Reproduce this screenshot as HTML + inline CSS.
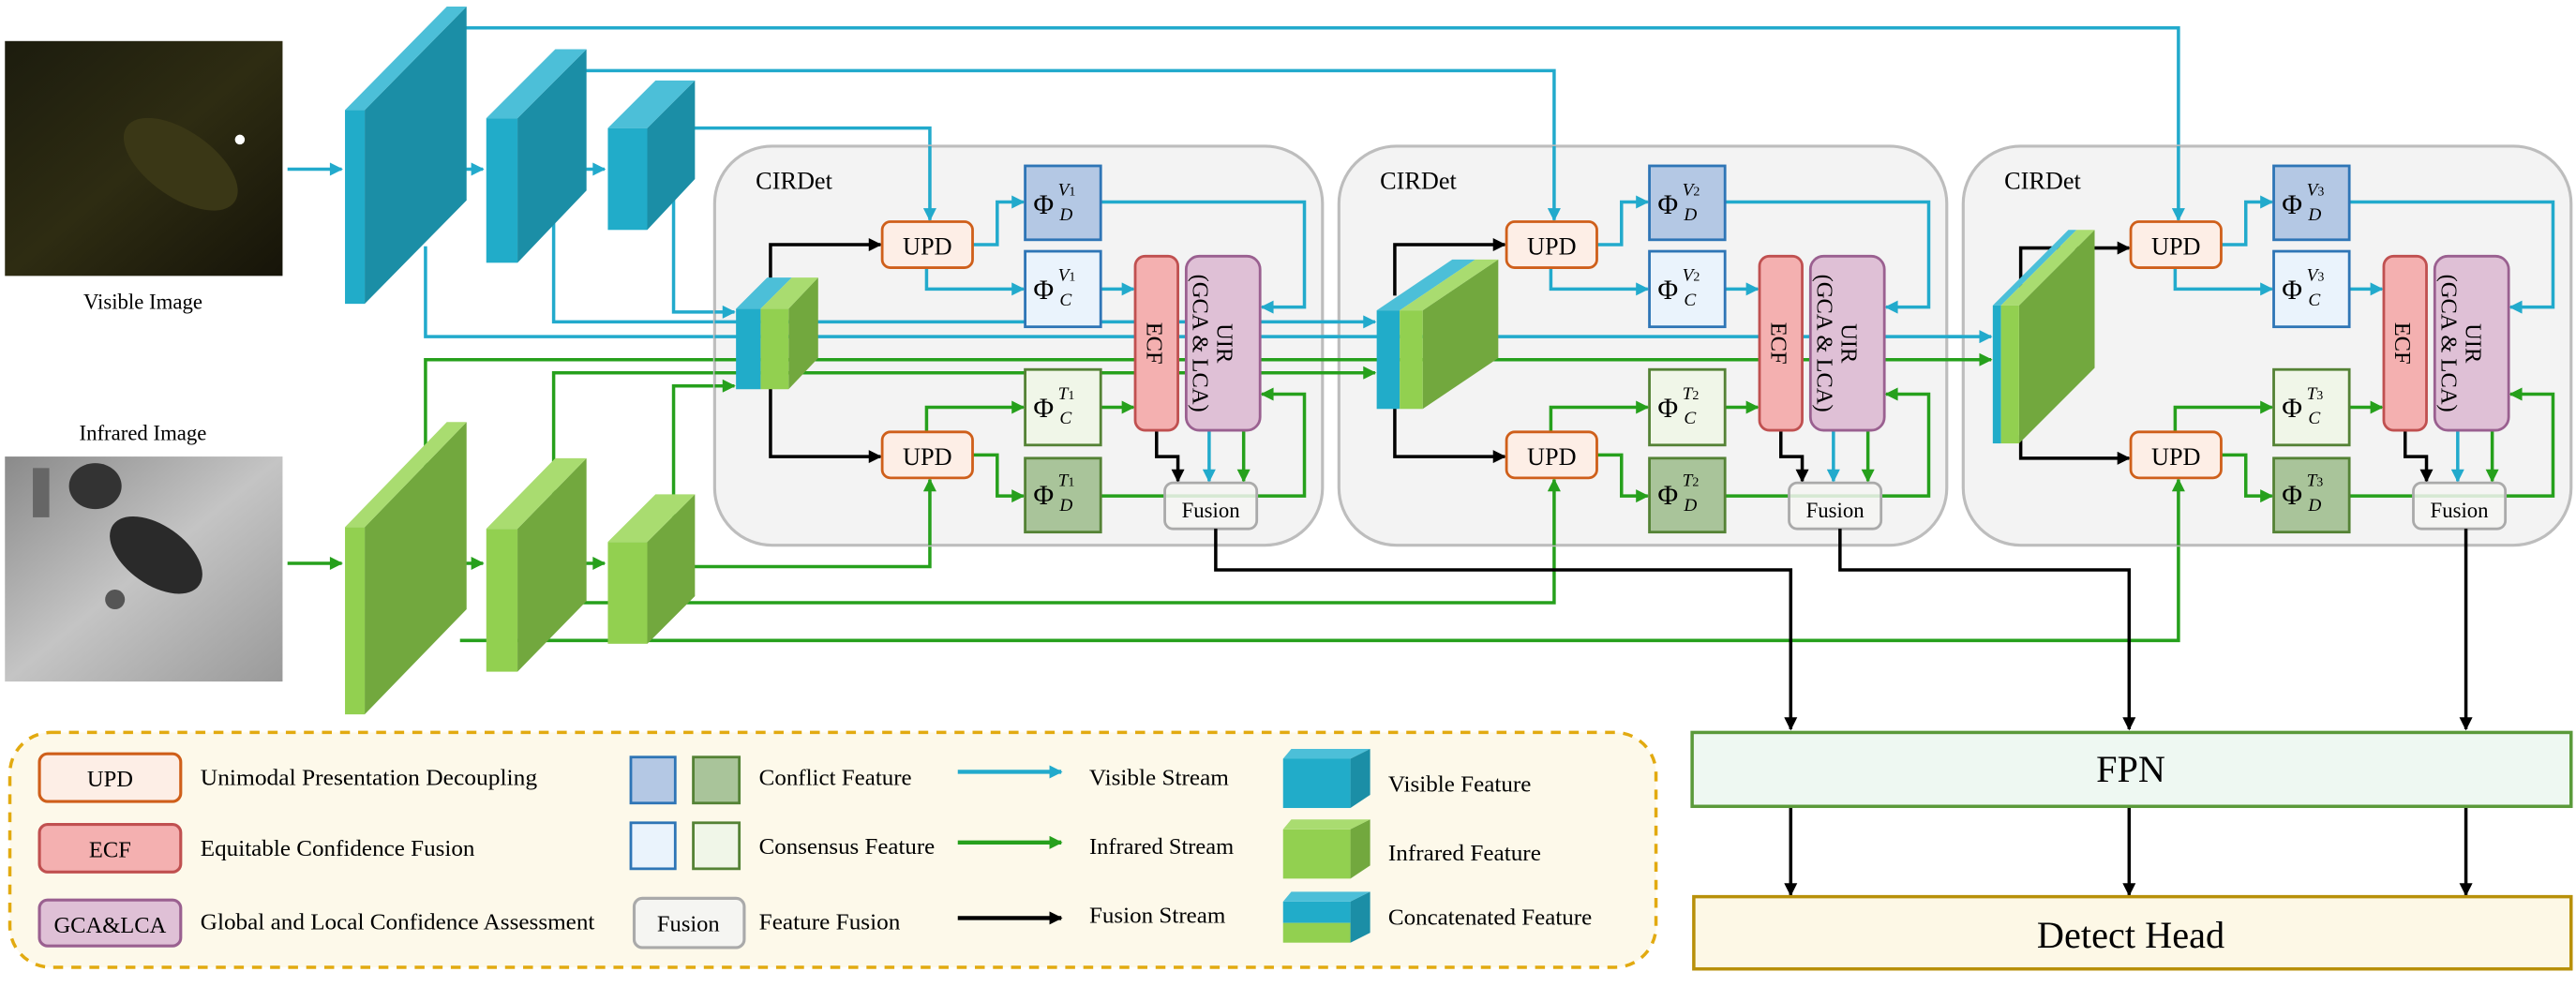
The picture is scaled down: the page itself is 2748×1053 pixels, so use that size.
<!DOCTYPE html>
<html><head><meta charset="utf-8"><style>
html,body{margin:0;padding:0;background:#fff;}
svg{display:block;font-family:"Liberation Serif",serif;}
</style></head><body>
<svg width="2748" height="1053" viewBox="0 0 1568 601" preserveAspectRatio="none" xmlns="http://www.w3.org/2000/svg">
<defs>
<marker id="ab" viewBox="0 0 10 10" refX="9" refY="5" markerWidth="9" markerHeight="8" markerUnits="userSpaceOnUse" orient="auto"><path d="M0,0L10,5L0,10z" fill="#22aacc"/></marker>
<marker id="ag" viewBox="0 0 10 10" refX="9" refY="5" markerWidth="9" markerHeight="8" markerUnits="userSpaceOnUse" orient="auto"><path d="M0,0L10,5L0,10z" fill="#26a01c"/></marker>
<marker id="ak" viewBox="0 0 10 10" refX="9" refY="5" markerWidth="9" markerHeight="8" markerUnits="userSpaceOnUse" orient="auto"><path d="M0,0L10,5L0,10z" fill="#000"/></marker>
<linearGradient id="vis" x1="0" y1="0" x2="1" y2="1"><stop offset="0" stop-color="#1c1c0e"/><stop offset="0.5" stop-color="#2e2c12"/><stop offset="1" stop-color="#161409"/></linearGradient>
<linearGradient id="ir" x1="0" y1="0" x2="1" y2="1"><stop offset="0" stop-color="#8a8a8a"/><stop offset="0.5" stop-color="#c4c4c4"/><stop offset="1" stop-color="#9a9a9a"/></linearGradient>
</defs>

<!-- input images -->
<rect x="3" y="25" width="169" height="143" fill="url(#vis)"/>
<ellipse cx="110" cy="100" rx="40" ry="20" fill="#3a3716" transform="rotate(35 110 100)"/>
<circle cx="146" cy="85" r="3" fill="#fff"/>
<rect x="3" y="278" width="169" height="137" fill="url(#ir)"/>
<ellipse cx="95" cy="338" rx="32" ry="18" fill="#2a2a2a" transform="rotate(35 95 338)"/>
<ellipse cx="58" cy="296" rx="16" ry="14" fill="#333"/>
<rect x="20" y="285" width="10" height="30" fill="#666"/>
<circle cx="70" cy="365" r="6" fill="#555"/>
<text x="87" y="188" font-size="13" text-anchor="middle">Visible Image</text>
<text x="87" y="268" font-size="13" text-anchor="middle">Infrared Image</text>

<g fill="none" stroke-width="2">
<path d="M175,103H208" stroke="#22aacc" marker-end="url(#ab)"/>
<path d="M257,103H294" stroke="#22aacc" marker-end="url(#ab)"/>
<path d="M330,103H368" stroke="#22aacc" marker-end="url(#ab)"/>
<path d="M175,343H208" stroke="#26a01c" marker-end="url(#ag)"/>
<path d="M257,343H294" stroke="#26a01c" marker-end="url(#ag)"/>
<path d="M330,343H368" stroke="#26a01c" marker-end="url(#ag)"/>
<path d="M280,17H1326V134" stroke="#22aacc" marker-end="url(#ab)"/>
<path d="M350,43H946V134" stroke="#22aacc" marker-end="url(#ab)"/>
<path d="M415,78H566V134" stroke="#22aacc" marker-end="url(#ab)"/>
<path d="M259,150V205H1212" stroke="#22aacc" marker-end="url(#ab)"/>
<path d="M337,130V196H837" stroke="#22aacc" marker-end="url(#ab)"/>
<path d="M410,120V190H447" stroke="#22aacc" marker-end="url(#ab)"/>
<path d="M259,300V219H1212" stroke="#26a01c" marker-end="url(#ag)"/>
<path d="M337,310V227H837" stroke="#26a01c" marker-end="url(#ag)"/>
<path d="M410,330V235H447" stroke="#26a01c" marker-end="url(#ag)"/>
<path d="M415,345H566V292" stroke="#26a01c" marker-end="url(#ag)"/>
<path d="M350,367H946V292" stroke="#26a01c" marker-end="url(#ag)"/>
<path d="M280,390H1326V292" stroke="#26a01c" marker-end="url(#ag)"/>
</g>

<g>
<polygon points="222,67 284,4 284,122 222,185" fill="#1b8ea6"/>
<polygon points="210,67 272,4 284,4 222,67" fill="#4cbfd8"/>
<rect x="210" y="67" width="12" height="118" fill="#21acc9"/>
<polygon points="315,72 357,30 357,116 315,160" fill="#1b8ea6"/>
<polygon points="296,72 338,30 357,30 315,72" fill="#4cbfd8"/>
<rect x="296" y="72" width="19" height="88" fill="#21acc9"/>
<polygon points="394,78 423,49 423,109 394,140" fill="#1b8ea6"/>
<polygon points="370,78 399,49 423,49 394,78" fill="#4cbfd8"/>
<rect x="370" y="78" width="24" height="62" fill="#21acc9"/>

<polygon points="222,321 284,257 284,371 222,435" fill="#72a83e"/>
<polygon points="210,321 272,257 284,257 222,321" fill="#a9dc70"/>
<rect x="210" y="321" width="12" height="114" fill="#92d050"/>
<polygon points="315,322 357,279 357,366 315,409" fill="#72a83e"/>
<polygon points="296,322 338,279 357,279 315,322" fill="#a9dc70"/>
<rect x="296" y="322" width="19" height="87" fill="#92d050"/>
<polygon points="394,330 423,301 423,363 394,392" fill="#72a83e"/>
<polygon points="370,330 399,301 423,301 394,330" fill="#a9dc70"/>
<rect x="370" y="330" width="24" height="62" fill="#92d050"/>
</g>

<g fill="#f1f1f1" fill-opacity="0.85" stroke="#bdbdbd" stroke-width="1.8">
<rect x="435" y="89" width="370" height="243" rx="35"/>
<rect x="815" y="89" width="370" height="243" rx="35"/>
<rect x="1195" y="89" width="370" height="243" rx="35"/>
</g>

<g fill="none" stroke-width="2">
<path d="M435,205H1212" stroke="#22aacc" marker-end="url(#ab)"/>
<path d="M435,196H837" stroke="#22aacc" marker-end="url(#ab)"/>
<path d="M435,219H1212" stroke="#26a01c" marker-end="url(#ag)"/>
<path d="M435,227H837" stroke="#26a01c" marker-end="url(#ag)"/>
<path d="M435,190H447" stroke="#22aacc" marker-end="url(#ab)"/>
<path d="M435,235H447" stroke="#26a01c" marker-end="url(#ag)"/>
<path d="M566,89V134" stroke="#22aacc" marker-end="url(#ab)"/>
<path d="M946,89V134" stroke="#22aacc" marker-end="url(#ab)"/>
<path d="M1326,89V134" stroke="#22aacc" marker-end="url(#ab)"/>
<path d="M566,332V292" stroke="#26a01c" marker-end="url(#ag)"/>
<path d="M946,332V292" stroke="#26a01c" marker-end="url(#ag)"/>
<path d="M1326,332V292" stroke="#26a01c" marker-end="url(#ag)"/>
</g>

<g fill="none" stroke="#000" stroke-width="2">
<path d="M469,175V149H536" marker-end="url(#ak)"/>
<path d="M469,236V278H536" marker-end="url(#ak)"/>
<path d="M849,180V149H916" marker-end="url(#ak)"/>
<path d="M849,248V278H916" marker-end="url(#ak)"/>
<path d="M1230,180V151H1296" marker-end="url(#ak)"/>
<path d="M1230,265V279H1296" marker-end="url(#ak)"/>
</g>

<g>
<polygon points="480,188 498,169 498,218 480,237" fill="#72a83e"/>
<polygon points="448,188 467,169 482,169 463,188" fill="#4cbfd8"/>
<polygon points="463,188 482,169 498,169 480,188" fill="#a9dc70"/>
<rect x="448" y="188" width="15" height="49" fill="#21acc9"/>
<rect x="463" y="188" width="17" height="49" fill="#92d050"/>

<polygon points="866,189 912,158 912,218 866,249" fill="#72a83e"/>
<polygon points="838,189 884,158 898,158 852,189" fill="#4cbfd8"/>
<polygon points="852,189 898,158 912,158 866,189" fill="#a9dc70"/>
<rect x="838" y="189" width="14" height="60" fill="#21acc9"/>
<rect x="852" y="189" width="14" height="60" fill="#92d050"/>

<polygon points="1229,186 1275,140 1275,224 1229,270" fill="#72a83e"/>
<polygon points="1213,186 1259,140 1264,140 1218,186" fill="#4cbfd8"/>
<polygon points="1218,186 1264,140 1275,140 1229,186" fill="#a9dc70"/>
<rect x="1213" y="186" width="5" height="84" fill="#21acc9"/>
<rect x="1218" y="186" width="11" height="84" fill="#92d050"/>
</g>

<g id="b1">
<g fill="none" stroke-width="2">
<path d="M592,149H607V123H623" stroke="#22aacc" marker-end="url(#ab)"/>
<path d="M564,163V176H623" stroke="#22aacc" marker-end="url(#ab)"/>
<path d="M670,176H690" stroke="#22aacc" marker-end="url(#ab)"/>
<path d="M670,123H794V187H768" stroke="#22aacc" marker-end="url(#ab)"/>
<path d="M564,263V248H623" stroke="#26a01c" marker-end="url(#ag)"/>
<path d="M670,248H690" stroke="#26a01c" marker-end="url(#ag)"/>
<path d="M592,277H607V302H623" stroke="#26a01c" marker-end="url(#ag)"/>
<path d="M670,302H794V240H768" stroke="#26a01c" marker-end="url(#ag)"/>
<path d="M704,262V278H717V293" stroke="#000" marker-end="url(#ak)"/>
<path d="M736,262V293" stroke="#22aacc" marker-end="url(#ab)"/>
<path d="M757,262V293" stroke="#26a01c" marker-end="url(#ag)"/>
</g>
<rect x="537" y="135" width="55" height="28" rx="5" fill="#fdeee6" stroke="#cf5f1a" stroke-width="1.6"/>
<rect x="537" y="263" width="55" height="28" rx="5" fill="#fdeee6" stroke="#cf5f1a" stroke-width="1.6"/>
<text x="564.5" y="155" font-size="15" text-anchor="middle">UPD</text>
<text x="564.5" y="283" font-size="15" text-anchor="middle">UPD</text>
<rect x="624" y="101" width="46" height="45" fill="#b4c8e4" stroke="#2e75b6" stroke-width="1.6"/>
<rect x="624" y="153" width="46" height="46" fill="#eaf3fc" stroke="#2e75b6" stroke-width="1.6"/>
<rect x="624" y="225" width="46" height="46" fill="#f0f6e8" stroke="#548235" stroke-width="1.6"/>
<rect x="624" y="279" width="46" height="45" fill="#a9c49a" stroke="#548235" stroke-width="1.6"/>
<rect x="691" y="156" width="26" height="106" rx="6" fill="#f4b0b0" stroke="#c05050" stroke-width="1.6"/>
<rect x="722" y="156" width="45" height="106" rx="8" fill="#dfc0d6" stroke="#9a6090" stroke-width="1.6"/>
<text transform="translate(698,209) rotate(90)" font-size="14" text-anchor="middle">ECF</text>
<text transform="translate(741,209) rotate(90)" font-size="14" text-anchor="middle">UIR</text>
<text transform="translate(726,209) rotate(90)" font-size="14" text-anchor="middle">(GCA &amp; LCA)</text>
<rect x="709" y="294" width="56" height="28" rx="5" fill="#f5f5f2" fill-opacity="0.85" stroke="#aaa" stroke-width="1.6"/>
<text x="737" y="315" font-size="13" text-anchor="middle">Fusion</text>
<text x="460" y="115" font-size="15">CIRDet</text>
</g>

<g transform="translate(380,0)">
<g fill="none" stroke-width="2">
<path d="M592,149H607V123H623" stroke="#22aacc" marker-end="url(#ab)"/>
<path d="M564,163V176H623" stroke="#22aacc" marker-end="url(#ab)"/>
<path d="M670,176H690" stroke="#22aacc" marker-end="url(#ab)"/>
<path d="M670,123H794V187H768" stroke="#22aacc" marker-end="url(#ab)"/>
<path d="M564,263V248H623" stroke="#26a01c" marker-end="url(#ag)"/>
<path d="M670,248H690" stroke="#26a01c" marker-end="url(#ag)"/>
<path d="M592,277H607V302H623" stroke="#26a01c" marker-end="url(#ag)"/>
<path d="M670,302H794V240H768" stroke="#26a01c" marker-end="url(#ag)"/>
<path d="M704,262V278H717V293" stroke="#000" marker-end="url(#ak)"/>
<path d="M736,262V293" stroke="#22aacc" marker-end="url(#ab)"/>
<path d="M757,262V293" stroke="#26a01c" marker-end="url(#ag)"/>
</g>
<rect x="537" y="135" width="55" height="28" rx="5" fill="#fdeee6" stroke="#cf5f1a" stroke-width="1.6"/>
<rect x="537" y="263" width="55" height="28" rx="5" fill="#fdeee6" stroke="#cf5f1a" stroke-width="1.6"/>
<text x="564.5" y="155" font-size="15" text-anchor="middle">UPD</text>
<text x="564.5" y="283" font-size="15" text-anchor="middle">UPD</text>
<rect x="624" y="101" width="46" height="45" fill="#b4c8e4" stroke="#2e75b6" stroke-width="1.6"/>
<rect x="624" y="153" width="46" height="46" fill="#eaf3fc" stroke="#2e75b6" stroke-width="1.6"/>
<rect x="624" y="225" width="46" height="46" fill="#f0f6e8" stroke="#548235" stroke-width="1.6"/>
<rect x="624" y="279" width="46" height="45" fill="#a9c49a" stroke="#548235" stroke-width="1.6"/>
<rect x="691" y="156" width="26" height="106" rx="6" fill="#f4b0b0" stroke="#c05050" stroke-width="1.6"/>
<rect x="722" y="156" width="45" height="106" rx="8" fill="#dfc0d6" stroke="#9a6090" stroke-width="1.6"/>
<text transform="translate(698,209) rotate(90)" font-size="14" text-anchor="middle">ECF</text>
<text transform="translate(741,209) rotate(90)" font-size="14" text-anchor="middle">UIR</text>
<text transform="translate(726,209) rotate(90)" font-size="14" text-anchor="middle">(GCA &amp; LCA)</text>
<rect x="709" y="294" width="56" height="28" rx="5" fill="#f5f5f2" fill-opacity="0.85" stroke="#aaa" stroke-width="1.6"/>
<text x="737" y="315" font-size="13" text-anchor="middle">Fusion</text>
<text x="460" y="115" font-size="15">CIRDet</text>
</g>

<g transform="translate(760,0)">
<g fill="none" stroke-width="2">
<path d="M592,149H607V123H623" stroke="#22aacc" marker-end="url(#ab)"/>
<path d="M564,163V176H623" stroke="#22aacc" marker-end="url(#ab)"/>
<path d="M670,176H690" stroke="#22aacc" marker-end="url(#ab)"/>
<path d="M670,123H794V187H768" stroke="#22aacc" marker-end="url(#ab)"/>
<path d="M564,263V248H623" stroke="#26a01c" marker-end="url(#ag)"/>
<path d="M670,248H690" stroke="#26a01c" marker-end="url(#ag)"/>
<path d="M592,277H607V302H623" stroke="#26a01c" marker-end="url(#ag)"/>
<path d="M670,302H794V240H768" stroke="#26a01c" marker-end="url(#ag)"/>
<path d="M704,262V278H717V293" stroke="#000" marker-end="url(#ak)"/>
<path d="M736,262V293" stroke="#22aacc" marker-end="url(#ab)"/>
<path d="M757,262V293" stroke="#26a01c" marker-end="url(#ag)"/>
</g>
<rect x="537" y="135" width="55" height="28" rx="5" fill="#fdeee6" stroke="#cf5f1a" stroke-width="1.6"/>
<rect x="537" y="263" width="55" height="28" rx="5" fill="#fdeee6" stroke="#cf5f1a" stroke-width="1.6"/>
<text x="564.5" y="155" font-size="15" text-anchor="middle">UPD</text>
<text x="564.5" y="283" font-size="15" text-anchor="middle">UPD</text>
<rect x="624" y="101" width="46" height="45" fill="#b4c8e4" stroke="#2e75b6" stroke-width="1.6"/>
<rect x="624" y="153" width="46" height="46" fill="#eaf3fc" stroke="#2e75b6" stroke-width="1.6"/>
<rect x="624" y="225" width="46" height="46" fill="#f0f6e8" stroke="#548235" stroke-width="1.6"/>
<rect x="624" y="279" width="46" height="45" fill="#a9c49a" stroke="#548235" stroke-width="1.6"/>
<rect x="691" y="156" width="26" height="106" rx="6" fill="#f4b0b0" stroke="#c05050" stroke-width="1.6"/>
<rect x="722" y="156" width="45" height="106" rx="8" fill="#dfc0d6" stroke="#9a6090" stroke-width="1.6"/>
<text transform="translate(698,209) rotate(90)" font-size="14" text-anchor="middle">ECF</text>
<text transform="translate(741,209) rotate(90)" font-size="14" text-anchor="middle">UIR</text>
<text transform="translate(726,209) rotate(90)" font-size="14" text-anchor="middle">(GCA &amp; LCA)</text>
<rect x="709" y="294" width="56" height="28" rx="5" fill="#f5f5f2" fill-opacity="0.85" stroke="#aaa" stroke-width="1.6"/>
<text x="737" y="315" font-size="13" text-anchor="middle">Fusion</text>
<text x="460" y="115" font-size="15">CIRDet</text>
</g>

<g font-size="17">
<text x="629" y="130">Φ</text><text x="629" y="182">Φ</text><text x="629" y="254">Φ</text><text x="629" y="307">Φ</text>
<text x="1009" y="130">Φ</text><text x="1009" y="182">Φ</text><text x="1009" y="254">Φ</text><text x="1009" y="307">Φ</text>
<text x="1389" y="130">Φ</text><text x="1389" y="182">Φ</text><text x="1389" y="254">Φ</text><text x="1389" y="307">Φ</text>
</g>
<g font-size="11" font-style="italic">
<text x="644" y="119">V<tspan font-size="8" font-style="normal">1</tspan></text><text x="645" y="134">D</text>
<text x="644" y="171">V<tspan font-size="8" font-style="normal">1</tspan></text><text x="645" y="186">C</text>
<text x="644" y="243">T<tspan font-size="8" font-style="normal">1</tspan></text><text x="645" y="258">C</text>
<text x="644" y="296">T<tspan font-size="8" font-style="normal">1</tspan></text><text x="645" y="311">D</text>
<text x="1024" y="119">V<tspan font-size="8" font-style="normal">2</tspan></text><text x="1025" y="134">D</text>
<text x="1024" y="171">V<tspan font-size="8" font-style="normal">2</tspan></text><text x="1025" y="186">C</text>
<text x="1024" y="243">T<tspan font-size="8" font-style="normal">2</tspan></text><text x="1025" y="258">C</text>
<text x="1024" y="296">T<tspan font-size="8" font-style="normal">2</tspan></text><text x="1025" y="311">D</text>
<text x="1404" y="119">V<tspan font-size="8" font-style="normal">3</tspan></text><text x="1405" y="134">D</text>
<text x="1404" y="171">V<tspan font-size="8" font-style="normal">3</tspan></text><text x="1405" y="186">C</text>
<text x="1404" y="243">T<tspan font-size="8" font-style="normal">3</tspan></text><text x="1405" y="258">C</text>
<text x="1404" y="296">T<tspan font-size="8" font-style="normal">3</tspan></text><text x="1405" y="311">D</text>
</g>

<g fill="none" stroke="#000" stroke-width="2">
<path d="M740,322V347H1090V444" marker-end="url(#ak)"/>
<path d="M1120,322V347H1296V444" marker-end="url(#ak)"/>
<path d="M1501,322V444" marker-end="url(#ak)"/>
<path d="M1090,491V545" marker-end="url(#ak)"/>
<path d="M1296,491V545" marker-end="url(#ak)"/>
<path d="M1501,491V545" marker-end="url(#ak)"/>
</g>
<rect x="1030" y="446" width="535" height="45" fill="#eef8f2" stroke="#5a9a3a" stroke-width="2"/>
<text x="1297" y="476" font-size="23" text-anchor="middle">FPN</text>
<rect x="1031" y="546" width="534" height="44" fill="#fdf8e6" stroke="#b8900a" stroke-width="2"/>
<text x="1297" y="577" font-size="23" text-anchor="middle">Detect Head</text>

<rect x="6" y="446" width="1002" height="143" rx="25" fill="#fdf9ea" stroke="#e2aa10" stroke-width="2" stroke-dasharray="6,5"/>
<rect x="24" y="459" width="86" height="29" rx="5" fill="#fdeee6" stroke="#cf5f1a" stroke-width="1.8"/>
<text x="67" y="479" font-size="14" text-anchor="middle">UPD</text>
<rect x="24" y="502" width="86" height="29" rx="5" fill="#f4b0b0" stroke="#c05050" stroke-width="1.8"/>
<text x="67" y="522" font-size="14" text-anchor="middle">ECF</text>
<rect x="24" y="548" width="86" height="28" rx="5" fill="#dfc0d6" stroke="#9a6090" stroke-width="1.8"/>
<text x="67" y="568" font-size="14" text-anchor="middle">GCA&amp;LCA</text>
<g font-size="14">
<text x="122" y="478" textLength="205" lengthAdjust="spacingAndGlyphs">Unimodal Presentation  Decoupling</text>
<text x="122" y="521" textLength="167" lengthAdjust="spacingAndGlyphs">Equitable Confidence Fusion</text>
<text x="122" y="566" textLength="240" lengthAdjust="spacingAndGlyphs">Global and Local Confidence Assessment</text>
<text x="462" y="478" textLength="93" lengthAdjust="spacingAndGlyphs">Conflict Feature</text>
<text x="462" y="520" textLength="107" lengthAdjust="spacingAndGlyphs">Consensus Feature</text>
<text x="462" y="566" textLength="86" lengthAdjust="spacingAndGlyphs">Feature Fusion</text>
<text x="663" y="478" textLength="85" lengthAdjust="spacingAndGlyphs">Visible Stream</text>
<text x="663" y="520" textLength="88" lengthAdjust="spacingAndGlyphs">Infrared Stream</text>
<text x="663" y="562" textLength="83" lengthAdjust="spacingAndGlyphs">Fusion Stream</text>
<text x="845" y="482" textLength="87" lengthAdjust="spacingAndGlyphs">Visible Feature</text>
<text x="845" y="524" textLength="93" lengthAdjust="spacingAndGlyphs">Infrared Feature</text>
<text x="845" y="563" textLength="124" lengthAdjust="spacingAndGlyphs">Concatenated Feature</text>
</g>
<rect x="384" y="461" width="27" height="28" fill="#b4c8e4" stroke="#2e75b6" stroke-width="1.6"/>
<rect x="422" y="461" width="28" height="28" fill="#a9c49a" stroke="#548235" stroke-width="1.6"/>
<rect x="384" y="501" width="27" height="28" fill="#eaf3fc" stroke="#2e75b6" stroke-width="1.6"/>
<rect x="422" y="501" width="28" height="28" fill="#f0f6e8" stroke="#548235" stroke-width="1.6"/>
<rect x="386" y="547" width="67" height="30" rx="5" fill="#f5f5f2" stroke="#aaa" stroke-width="1.8"/>
<text x="419" y="567" font-size="14" text-anchor="middle">Fusion</text>
<g fill="none" stroke-width="2.5">
<path d="M583,470H646" stroke="#22aacc" marker-end="url(#ab)"/>
<path d="M583,513H646" stroke="#26a01c" marker-end="url(#ag)"/>
<path d="M583,559H646" stroke="#000" marker-end="url(#ak)"/>
</g>
<rect x="781" y="462" width="41" height="30" fill="#21acc9"/>
<polygon points="781,462 786,456 834,456 822,462" fill="#4cbfd8"/>
<polygon points="822,462 834,456 834,484 822,492" fill="#1b8ea6"/>
<rect x="781" y="505" width="41" height="30" fill="#92d050"/>
<polygon points="781,505 786,499 834,499 822,505" fill="#a9dc70"/>
<polygon points="822,505 834,499 834,527 822,535" fill="#72a83e"/>
<rect x="781" y="549" width="41" height="13" fill="#21acc9"/>
<rect x="781" y="562" width="41" height="12" fill="#92d050"/>
<polygon points="781,549 786,543 834,543 822,549" fill="#4cbfd8"/>
<polygon points="822,549 834,543 834,568 822,574" fill="#1b8ea6"/>
</svg>
</body></html>
